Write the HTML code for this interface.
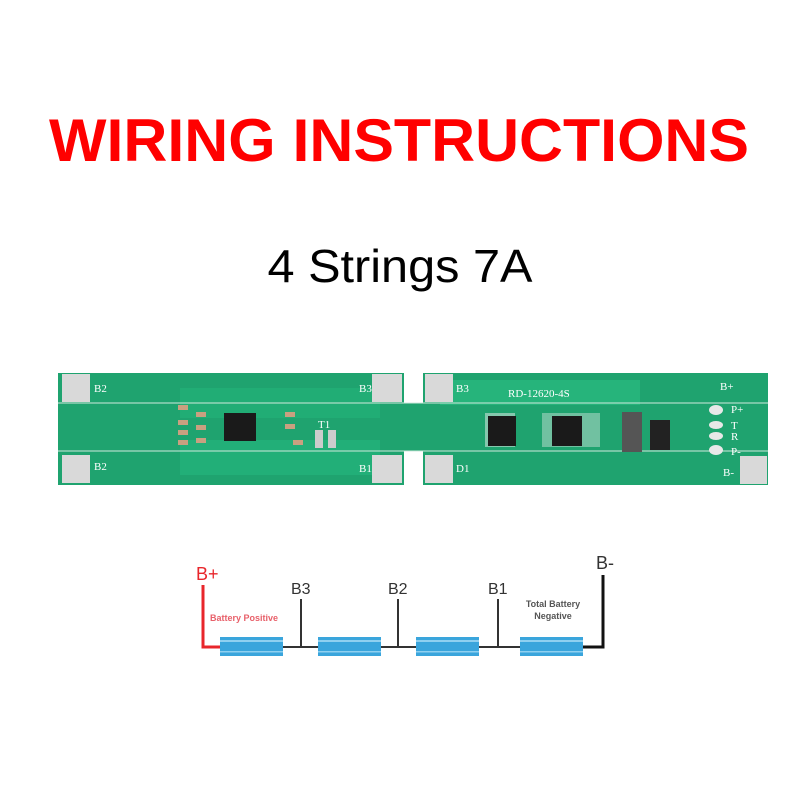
<!DOCTYPE html>
<html><head><meta charset="utf-8"><style>
html,body{margin:0;padding:0;background:#fff;}
svg{display:block}
</style></head><body>
<svg width="800" height="800" viewBox="0 0 800 800" xmlns="http://www.w3.org/2000/svg">
<rect width="800" height="800" fill="#fff"/>
<text x="399" y="161" font-family="Liberation Sans, sans-serif" font-weight="bold" font-size="60" fill="#ff0000" text-anchor="middle" textLength="700" lengthAdjust="spacingAndGlyphs">WIRING INSTRUCTIONS</text>
<text x="400" y="282" font-family="Liberation Sans, sans-serif" font-size="46" fill="#000" text-anchor="middle" textLength="265" lengthAdjust="spacingAndGlyphs">4 Strings 7A</text>

<!-- PCB -->
<g>
<rect x="58" y="373" width="346" height="112" fill="#1fa36f"/>
<rect x="423" y="373" width="345" height="112" fill="#1fa36f"/>
<rect x="400" y="403" width="26" height="48" fill="#1fa36f"/>
<rect x="180" y="388" width="200" height="30" fill="#22b078" opacity="0.7"/>
<rect x="180" y="440" width="200" height="35" fill="#25b87e" opacity="0.6"/>
<rect x="440" y="380" width="200" height="25" fill="#2bc084" opacity="0.6"/>
<line x1="58" y1="403" x2="768" y2="403" stroke="#cfe9dc" stroke-width="1"/>
<line x1="58" y1="451" x2="768" y2="451" stroke="#cfe9dc" stroke-width="1"/>
<!-- pads -->
<g fill="#d9d9d9">
<rect x="62" y="374" width="28" height="28"/><rect x="62" y="455" width="28" height="28"/>
<rect x="372" y="374" width="30" height="28"/><rect x="372" y="455" width="30" height="28"/>
<rect x="425" y="374" width="28" height="28"/><rect x="425" y="455" width="28" height="28"/>
<rect x="740" y="456" width="27" height="28"/>
</g>
<g font-family="Liberation Serif, serif" font-size="11" fill="#fff">
<text x="94" y="392">B2</text><text x="94" y="470">B2</text>
<text x="359" y="392">B3</text><text x="359" y="472">B1</text>
<text x="456" y="392">B3</text><text x="456" y="472">D1</text>
<text x="508" y="397">RD-12620-4S</text>
<text x="720" y="390">B+</text><text x="723" y="476">B-</text>
<text x="731" y="413">P+</text><text x="731" y="429">T</text><text x="731" y="440">R</text><text x="731" y="455">P-</text>
<text x="318" y="428">T1</text>
</g>
<g fill="#e8e8e8"><ellipse cx="716" cy="410" rx="7" ry="5"/><ellipse cx="716" cy="425" rx="7" ry="4"/><ellipse cx="716" cy="436" rx="7" ry="4"/><ellipse cx="716" cy="450" rx="7" ry="5"/></g>
<rect x="224" y="413" width="32" height="28" fill="#1a1a1a"/>
<rect x="485" y="413" width="30" height="34" fill="#eee" opacity="0.5"/>
<rect x="488" y="416" width="28" height="30" fill="#1a1a1a"/>
<rect x="542" y="413" width="58" height="34" fill="#eee" opacity="0.4"/>
<rect x="552" y="416" width="30" height="30" fill="#1a1a1a"/>
<rect x="622" y="412" width="20" height="40" fill="#555"/>
<rect x="650" y="420" width="20" height="30" fill="#222"/>
<rect x="315" y="430" width="8" height="18" fill="#ccc"/><rect x="328" y="430" width="8" height="18" fill="#ccc"/>
<g fill="#c9a080"><rect x="178" y="405" width="10" height="5"/><rect x="178" y="420" width="10" height="5"/><rect x="178" y="430" width="10" height="5"/><rect x="178" y="440" width="10" height="5"/><rect x="196" y="412" width="10" height="5"/><rect x="196" y="425" width="10" height="5"/><rect x="196" y="438" width="10" height="5"/><rect x="285" y="412" width="10" height="5"/><rect x="285" y="424" width="10" height="5"/><rect x="293" y="440" width="10" height="5"/></g>
</g>

<!-- wiring -->
<g fill="none" stroke-width="3">
<polyline points="203,585 203,647 222,647" stroke="#e8262b"/>
<line x1="283" y1="647" x2="318" y2="647" stroke="#333" stroke-width="2"/>
<line x1="381" y1="647" x2="416" y2="647" stroke="#333" stroke-width="2"/>
<line x1="479" y1="647" x2="520" y2="647" stroke="#333" stroke-width="2"/>
<polyline points="583,647 603,647 603,575" stroke="#111"/>
<line x1="301" y1="599" x2="301" y2="647" stroke="#333" stroke-width="2"/>
<line x1="398" y1="599" x2="398" y2="647" stroke="#333" stroke-width="2"/>
<line x1="498" y1="599" x2="498" y2="647" stroke="#333" stroke-width="2"/>
</g>
<g>
<rect x="220" y="637" width="63" height="19" fill="#3aa5dc"/><rect x="220" y="640" width="63" height="2" fill="#8fd0f0"/><rect x="220" y="651" width="63" height="1.5" fill="#8fd0f0"/>
<rect x="318" y="637" width="63" height="19" fill="#3aa5dc"/><rect x="318" y="640" width="63" height="2" fill="#8fd0f0"/><rect x="318" y="651" width="63" height="1.5" fill="#8fd0f0"/>
<rect x="416" y="637" width="63" height="19" fill="#3aa5dc"/><rect x="416" y="640" width="63" height="2" fill="#8fd0f0"/><rect x="416" y="651" width="63" height="1.5" fill="#8fd0f0"/>
<rect x="520" y="637" width="63" height="19" fill="#3aa5dc"/><rect x="520" y="640" width="63" height="2" fill="#8fd0f0"/><rect x="520" y="651" width="63" height="1.5" fill="#8fd0f0"/>
</g>
<g font-family="Liberation Sans, sans-serif">
<text x="196" y="580" font-size="18" fill="#e8262b">B+</text>
<text x="291" y="594" font-size="16" fill="#333">B3</text>
<text x="388" y="594" font-size="16" fill="#333">B2</text>
<text x="488" y="594" font-size="16" fill="#333">B1</text>
<text x="596" y="569" font-size="18" fill="#333">B-</text>
<text x="210" y="621" font-size="9" font-weight="bold" fill="#e8606a">Battery Positive</text>
<text x="553" y="607" font-size="9" font-weight="bold" fill="#555" text-anchor="middle">Total Battery</text>
<text x="553" y="619" font-size="9" font-weight="bold" fill="#555" text-anchor="middle">Negative</text>
</g>
</svg>
</body></html>
